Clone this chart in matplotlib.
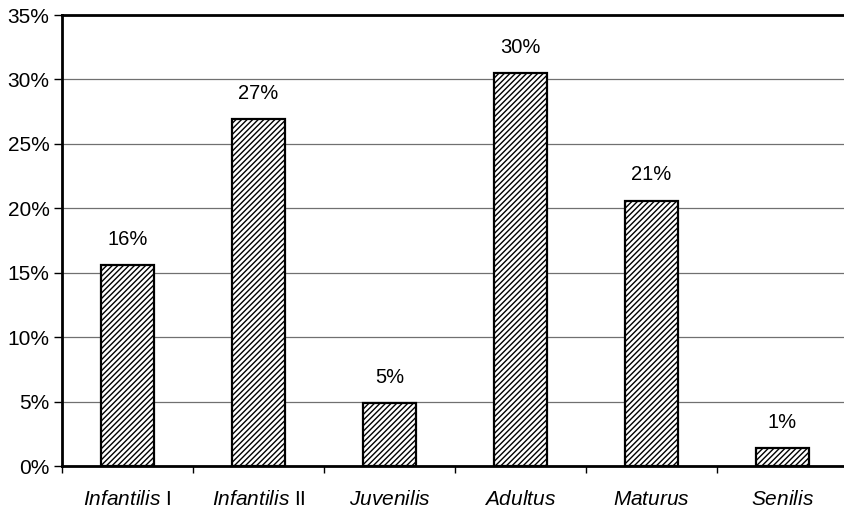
import matplotlib.pyplot as plt
import numpy as np

plt.rcParams['font.family'] = ['Liberation Sans', 'DejaVu Sans']
plt.rcParams['mathtext.fontset'] = 'custom'
plt.rcParams['mathtext.it'] = 'Liberation Sans:italic'
plt.rcParams['mathtext.rm'] = 'Liberation Sans'
plt.rcParams['hatch.linewidth'] = 1.0

# age groups and share of burials (%)
categories = [r'$\mathit{Infantilis}$ I', r'$\mathit{Infantilis}$ II', r'$\mathit{Juvenilis}$',
              r'$\mathit{Adultus}$', r'$\mathit{Maturus}$', r'$\mathit{Senilis}$']
values = [15.6, 26.9, 4.9, 30.5, 20.6, 1.4]
labels = ['16%', '27%', '5%', '30%', '21%', '1%']
yticks = [0, 5, 10, 15, 20, 25, 30, 35]

fig = plt.figure(figsize=(8.45, 5.09), dpi=100)
ax = fig.add_axes([62 / 845, 43 / 509, 786 / 845, 451 / 509])

x = np.arange(len(values))
ax.grid(axis='y', color='#707070', linewidth=0.9, zorder=0)
bars = ax.bar(x, values, width=0.4, color='white', edgecolor='black',
              linewidth=1.6, hatch='//////', zorder=3)

for xi, v, lab in zip(x, values, labels):
    ax.text(xi, v + 1.25, lab, ha='center', va='bottom', fontsize=14.5)

ax.set_xlim(-0.5, len(values) - 0.5)
ax.set_ylim(0, 35)
ax.set_yticks(yticks)
ax.set_yticklabels([f'{t}%' for t in yticks], fontsize=15)
ax.set_xticks(x)
ax.set_xticklabels(categories, fontsize=15)
ax.set_xticks(np.arange(len(values) + 1) - 0.5, minor=True)
ax.tick_params(axis='x', which='major', length=0, pad=17)
ax.tick_params(axis='x', which='minor', length=5, width=1, direction='out')
ax.tick_params(axis='y', length=6, width=1, direction='out', pad=3)

for side in ['left', 'bottom', 'top']:
    ax.spines[side].set_linewidth(2)
    ax.spines[side].set_color('black')
ax.spines['right'].set_visible(False)

fig.savefig('out.png', dpi=100)
